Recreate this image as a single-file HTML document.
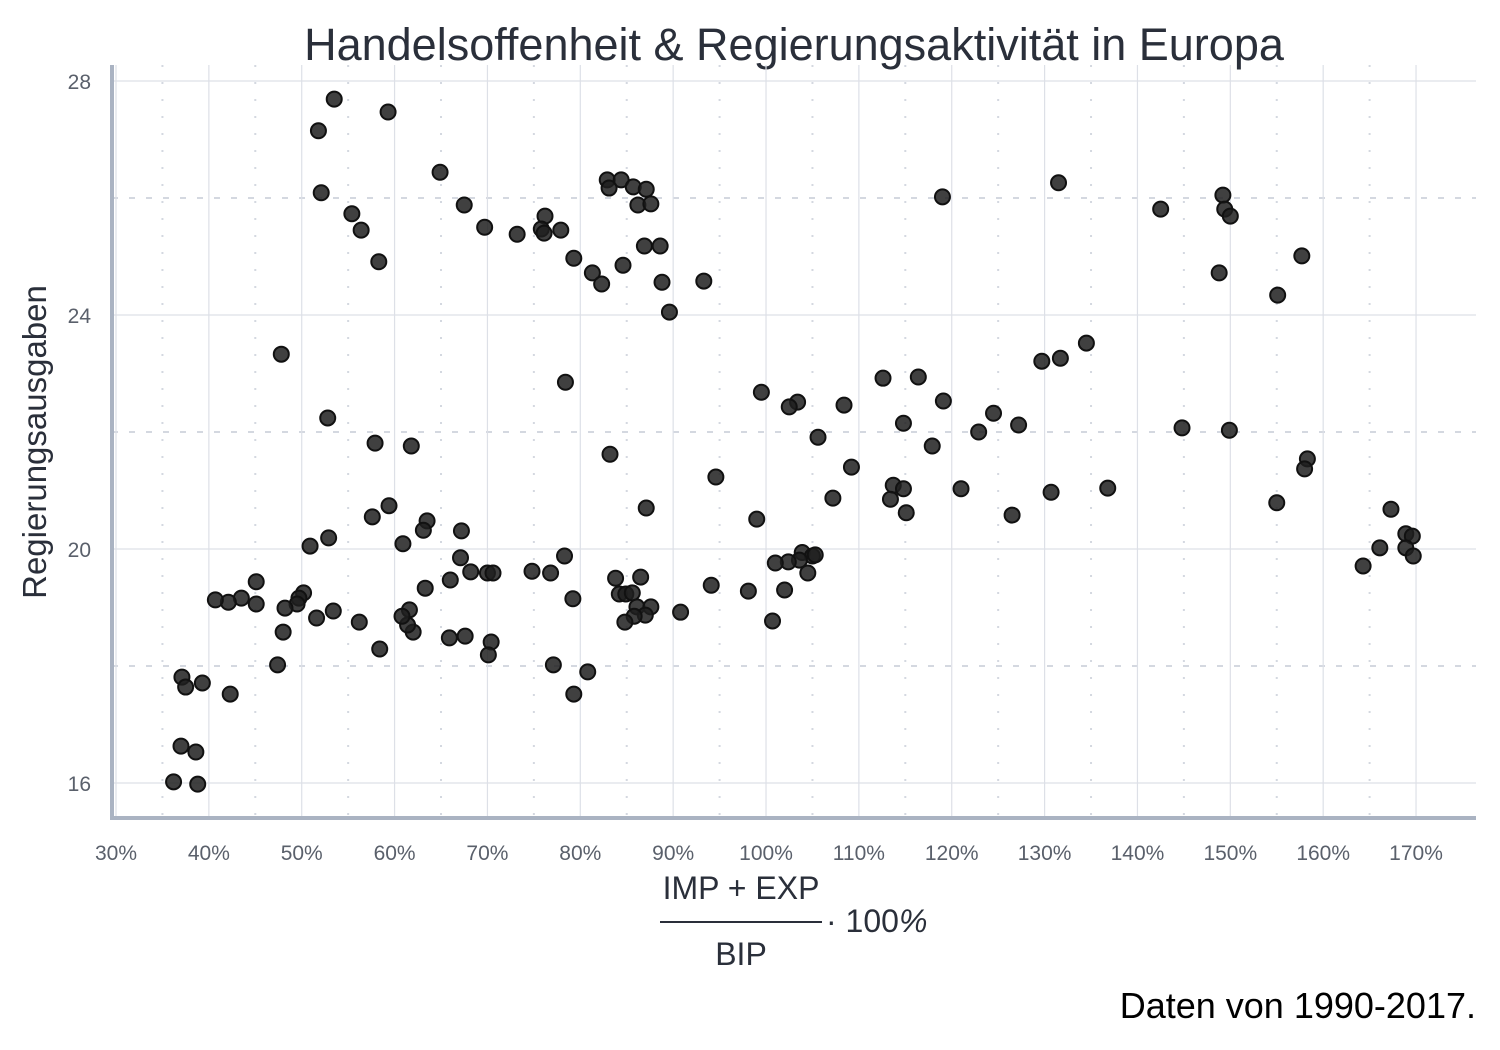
<!DOCTYPE html>
<html><head><meta charset="utf-8"><style>
body{margin:0;background:#fff;}
svg{display:block;font-family:"Liberation Sans",sans-serif;}
</style></head><body>
<svg id="chart" width="1500" height="1050" viewBox="0 0 1500 1050">
<rect width="1500" height="1050" fill="#fff"/>
<text x="794" y="60" text-anchor="middle" font-size="45" fill="#2a2f3a">Handelsoffenheit &amp; Regierungsaktivität in Europa</text>
<g id="grid"></g>
<g id="points"></g>
<g id="axes"></g>
<text transform="translate(46,442) rotate(-90)" text-anchor="middle" font-size="33" fill="#2a2f3a">Regierungsausgaben</text>
<g>
<text x="741" y="899" text-anchor="middle" font-size="32" fill="#2a2f3a">IMP + EXP</text>
<line x1="660" y1="922" x2="822" y2="922" stroke="#2a2f3a" stroke-width="2"/>
<text x="741" y="965" text-anchor="middle" font-size="32" fill="#2a2f3a">BIP</text>
<text x="826" y="932" font-size="32" fill="#2a2f3a">· 100<tspan font-style="italic">%</tspan></text>
</g>
<text x="1476" y="1018" text-anchor="end" font-size="36" fill="#000">Daten von 1990-2017.</text>
</svg>
<script>
const xTicks=[30,40,50,60,70,80,90,100,110,120,130,140,150,160,170];
const yTicks=[16,20,24,28];
const xMinor=[35,45,55,65,75,85,95,105,115,125,135,145,155,165];
const yMinor=[18,22,26];
const tradeOpenness=[53.5,51.8,59.3,52.1,64.9,55.4,56.4,58.3,67.5,69.7,73.2,76.2,75.8,76.1,77.9,79.3,81.3,82.3,84.6,82.9,83.1,84.4,85.7,87.1,86.2,87.6,86.9,88.6,88.8,89.6,93.3,119.0,131.5,142.5,149.2,149.4,150.0,148.8,157.7,155.1,
47.8,52.8,78.4,57.9,61.8,83.2,99.5,103.4,102.5,108.4,105.6,109.2,112.6,116.4,114.8,119.1,117.9,124.5,122.9,127.2,129.7,131.7,134.5,144.8,149.9,158.3,158.0,155.0,94.6,107.2,113.7,114.8,113.4,115.1,121.0,130.7,136.8,126.5,99.0,87.1,57.6,59.4,63.5,63.1,67.2,52.9,50.9,60.9,67.1,78.3,167.3,168.9,169.6,168.9,169.7,166.1,164.3,
103.9,105.0,105.3,103.6,102.4,101.0,104.5,102.0,98.1,94.1,90.8,100.7,83.8,86.5,84.2,84.9,85.6,86.1,87.6,87.0,85.8,84.8,74.8,76.8,70.0,70.6,68.2,66.0,63.3,79.2,80.8,79.3,77.1,70.4,70.1,67.6,65.9,62.0,61.6,61.4,60.8,56.2,58.4,53.4,51.6,50.2,49.7,49.5,48.2,48.0,47.4,45.1,45.1,43.5,42.1,40.7,42.3,39.3,37.1,37.5,37.0,38.6,36.2,38.8];
const govSpending=[27.69,27.15,27.47,26.09,26.44,25.73,25.45,24.91,25.88,25.50,25.38,25.69,25.47,25.40,25.45,24.97,24.72,24.53,24.85,26.31,26.17,26.31,26.19,26.15,25.88,25.90,25.18,25.18,24.56,24.05,24.58,26.02,26.26,25.81,26.05,25.81,25.69,24.72,25.01,24.34,
23.33,22.24,22.85,21.81,21.76,21.62,22.68,22.51,22.43,22.46,21.91,21.40,22.92,22.94,22.15,22.53,21.76,22.32,22.0,22.12,23.21,23.26,23.52,22.07,22.03,21.54,21.37,20.79,21.23,20.87,21.09,21.03,20.85,20.62,21.03,20.97,21.04,20.58,20.51,20.70,20.55,20.74,20.48,20.32,20.31,20.19,20.05,20.09,19.85,19.88,20.68,20.26,20.22,20.02,19.88,20.02,19.71,
19.94,19.88,19.90,19.81,19.78,19.76,19.59,19.30,19.28,19.38,18.92,18.77,19.50,19.52,19.23,19.23,19.25,19.01,19.01,18.87,18.85,18.75,19.62,19.59,19.59,19.59,19.61,19.47,19.33,19.15,17.90,17.52,18.02,18.41,18.19,18.51,18.48,18.58,18.96,18.70,18.85,18.75,18.29,18.94,18.82,19.25,19.16,19.06,18.99,18.58,18.02,19.44,19.06,19.16,19.09,19.13,17.52,17.71,17.81,17.64,16.63,16.53,16.02,15.98];
const NS='http://www.w3.org/2000/svg';
const X=v=>116+(v-30)*9.286;
const Y=v=>81+(28-v)*58.5;
const L=112,R=1476,T=65,B=818;
function mk(tag,attrs,parent){const e=document.createElementNS(NS,tag);for(const k in attrs)e.setAttribute(k,attrs[k]);parent.appendChild(e);return e;}
const grid=document.getElementById('grid');
xMinor.forEach(v=>{const e=mk('line',{x1:X(v),x2:X(v),y1:T,y2:B,stroke:'#d4d8e0','stroke-width':2,'stroke-dasharray':'2 15'},grid);

});
yMinor.forEach(v=>{const e=mk('line',{x1:L,x2:R,y1:Y(v),y2:Y(v),stroke:'#d4d8e0','stroke-width':2,'stroke-dasharray':'6 11'},grid);

});
xTicks.forEach(v=>{const e=mk('line',{x1:X(v),x2:X(v),y1:T,y2:B,stroke:'#dde0e7','stroke-width':1.2},grid);

});
yTicks.forEach(v=>{const e=mk('line',{x1:L,x2:R,y1:Y(v),y2:Y(v),stroke:'#dde0e7','stroke-width':1.2},grid);

});
const pts=document.getElementById('points');
tradeOpenness.forEach((v,i)=>{const c=mk('circle',{cx:X(v),cy:Y(govSpending[i]),r:7.5,fill:'rgba(30,30,30,0.85)',stroke:'#111','stroke-width':2},pts);

});
const axes=document.getElementById('axes');
let a=mk('line',{x1:L,x2:L,y1:T,y2:B+2,stroke:'#aab3c2','stroke-width':4},axes);


a=mk('line',{x1:L-2,x2:R,y1:B,y2:B,stroke:'#aab3c2','stroke-width':4},axes);


xTicks.forEach(v=>{const t=mk('text',{x:X(v),y:860,'text-anchor':'middle','font-size':21,fill:'#5a606b'},axes);t.textContent=v+'%';

});
yTicks.forEach(v=>{const t=mk('text',{x:91,y:Y(v)+8,'text-anchor':'end','font-size':21,fill:'#5a606b'},axes);t.textContent=v;

});
</script>
</body></html>
